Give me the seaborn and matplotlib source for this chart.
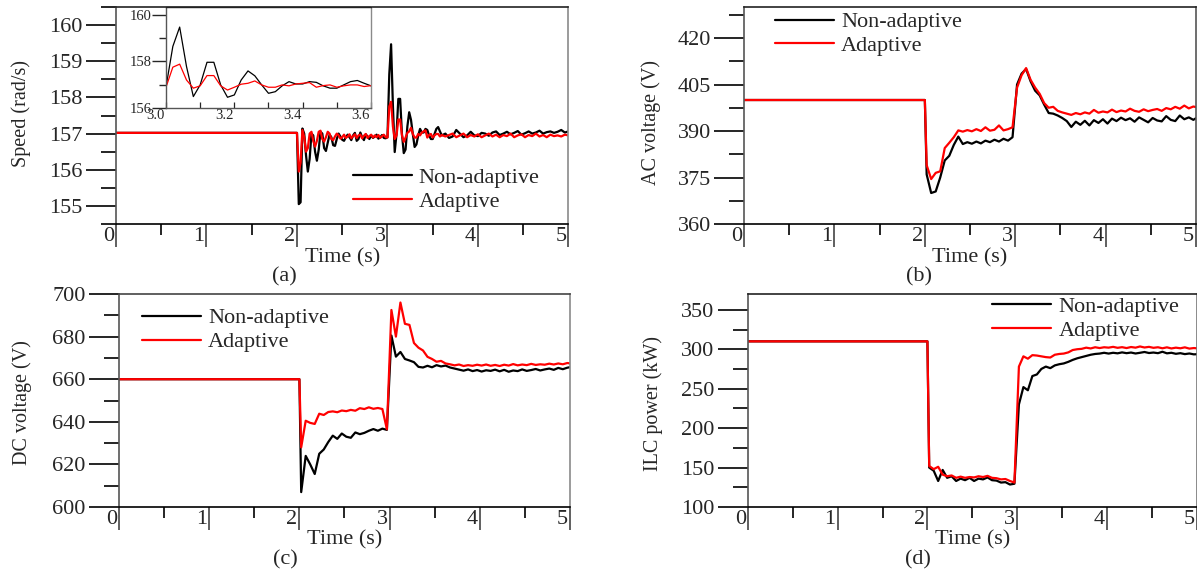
import numpy as np
import pandas as pd
import matplotlib
matplotlib.use('Agg')
import matplotlib.pyplot as plt
import matplotlib.transforms as mtransforms
from matplotlib.ticker import MultipleLocator
import seaborn as sns

# ---------------- data ----------------
labels = ['Non-adaptive', 'Adaptive']
panel_tags = ['(a)', '(b)', '(c)', '(d)']
y_titles = ['Speed (rad/s)', 'AC voltage (V)', 'DC voltage (V)', 'ILC power (kW)']

# speed: t = 0, 2.00..3.60 step 0.02, 3.64..5.00 step 0.04
speed_t = np.r_[0.0, np.round(2.00 + 0.02 * np.arange(81), 2), np.round(3.64 + 0.04 * np.arange(35), 2)]
speed_non = [157.02,
             157.02, 155.05, 155.1, 157.14, 157.0, 156.4, 155.95, 156.3, 157.0, 156.95,
             156.5, 156.25, 156.55, 157.05, 157.0, 156.6, 156.52, 156.75, 156.97, 156.9,
             156.68, 156.66, 156.85, 157.0, 156.92, 156.83, 156.8, 156.9, 156.97, 156.9,
             156.82, 156.95, 157.02, 156.8, 156.85, 157.03, 156.9, 156.82, 156.98, 156.92,
             156.85, 156.95, 156.88, 156.92, 156.97, 156.86, 156.9, 156.96, 156.88, 156.87,
             156.9,
             158.64, 159.47, 157.78, 156.49, 156.99, 157.96, 157.96, 156.99, 156.46, 156.56,
             157.2, 157.59, 157.38, 156.99, 156.63, 156.7, 156.95, 157.13, 157.03, 157.03,
             157.13, 157.1, 156.95, 156.85, 156.85, 156.99, 157.13, 157.18, 157.06, 156.95,
             157.0, 156.88, 156.92, 157.1, 157.0, 156.9, 156.95, 157.05, 156.95, 156.93,
             157.02, 157.0, 156.94, 157.03, 157.06, 156.96, 157.0, 157.05, 156.98, 157.02,
             157.07, 156.97, 157.01, 157.06, 157.0, 157.03, 157.08, 157.0, 157.04, 157.06,
             157.02, 157.05, 157.1, 157.03, 157.06]
speed_ada = [157.02,
             157.02, 155.95, 156.2, 157.1, 156.9, 156.5, 156.6, 157.0, 157.05, 156.8,
             156.64, 156.8, 157.05, 157.08, 156.85, 156.78, 156.9, 157.05, 157.0, 156.85,
             156.82, 156.92, 157.0, 156.95, 156.86, 156.9, 156.97, 156.88, 156.92, 156.98,
             156.87, 156.93, 156.98, 156.88, 156.95, 156.97, 156.87, 156.94, 156.99, 156.88,
             156.93, 156.97, 156.89, 156.95, 156.9, 156.96, 156.88, 156.93, 156.97, 156.9,
             156.89,
             157.75, 157.88, 157.2, 156.85, 156.95, 157.39, 157.39, 156.95, 156.77, 156.89,
             157.02, 157.06, 157.16, 156.99, 156.89, 156.89, 156.99, 156.95, 157.03, 157.06,
             157.09, 156.89, 156.96, 156.99, 156.89, 156.95, 156.99, 156.99, 156.92, 156.96,
             156.92, 156.96, 157.0, 156.9, 156.95, 157.0, 156.9, 156.96, 156.92, 156.98,
             156.9, 156.95, 157.0, 156.92, 156.97, 156.9, 156.96, 156.93, 157.0, 156.9,
             156.95, 156.98, 156.9, 156.96, 156.93, 157.0, 156.92, 156.96, 156.9, 156.97,
             156.93, 156.95, 156.92, 156.97, 156.95]

# AC, DC, ILC: t = 0, 2.0, 2.02..5.02 step 0.05
grid_t = np.r_[0.0, 2.0, np.round(2.02 + 0.05 * np.arange(61), 2)]
ac_non = [400, 400,
          376, 370, 370.5, 375, 380.5, 382, 385.5, 388.2, 385.8, 386.4,
          385.9, 386.6, 386.0, 386.9, 386.4, 387.2, 386.6, 387.5, 386.9, 388.0,
          405, 408.5, 410, 406, 403, 401.5, 398.5, 395.8, 395.6, 395.0,
          394.2, 393.2, 391.3, 393.0, 392.0, 393.3, 391.8, 393.5, 392.6, 393.8,
          392.4, 394.0, 393.2, 394.3, 393.5, 394.1, 393.0, 394.4, 393.6, 392.8,
          394.2, 393.4, 393.1, 394.8, 393.6, 393.2, 395.0, 393.8, 394.4, 393.6,
          394.5]
ac_ada = [400, 400,
          379, 374.5, 376.5, 377, 384.5, 386.2, 388, 390.2, 389.8, 390.3,
          389.9, 390.6, 390.0, 391.2, 390.1, 390.4, 391.8, 390.2, 390.6, 391.2,
          404, 408, 410.3, 406.5, 404, 402, 399, 397.5, 397.8, 396.5,
          396.0, 395.6, 395.2, 395.8, 395.4, 396.0, 395.6, 396.8, 395.9, 396.3,
          396.0, 396.9, 396.1, 396.6, 396.3, 397.2, 396.5, 396.2, 397.0, 396.4,
          396.8, 397.1, 396.5, 397.4, 397.0, 397.8, 397.2, 398.2, 397.3, 397.9,
          397.6]
dc_non = [660, 660,
          607, 624, 620, 615.5, 625, 627, 630.5, 633.5, 632, 634.5,
          633, 632.5, 635, 634.2, 634.8, 635.8, 636.6, 635.8, 636.8, 636.2,
          680.5, 670.6, 672.8, 669.5, 668.8, 668.0, 665.8, 665.5, 666.3, 665.6,
          666.6, 666.0, 666.4, 665.5, 665.0, 664.5, 664.0, 664.6, 663.8, 664.3,
          663.6, 664.2, 663.9, 664.5, 663.7, 664.4, 663.5, 664.1, 663.8, 664.6,
          663.9, 664.3, 664.8, 664.1, 664.6, 665.0, 664.4, 665.3, 664.7, 665.4,
          665.8]
dc_ada = [660, 660,
          628, 640.5, 639.5, 639.0, 643.8, 643.2, 644.6, 644.9, 644.5, 645.3,
          645.0, 645.6, 645.2, 646.4, 646.0, 646.8, 646.1, 646.5, 646.0, 636.5,
          692.5, 680, 696, 686, 685.5, 677, 674.8, 673.5, 670.5, 669.5,
          668.2, 668.6, 667.4, 667.0, 666.5, 666.9, 666.2, 666.6, 666.3, 666.8,
          666.4, 666.9, 666.3, 666.7, 666.2, 666.8, 666.4, 667.1, 666.5, 666.9,
          666.6, 667.2, 666.7, 667.0, 666.8, 667.3, 666.9, 667.4, 667.0, 667.6,
          667.3]
ilc_non = [310, 310,
           150, 146, 133, 147, 137, 139, 133, 136, 134, 137,
           133, 136, 135, 137.5, 134, 133.5, 131, 131.5, 128.5, 129.5,
           230, 252, 248, 266, 268, 275, 278, 276, 279.5, 281,
           282, 284, 286.5, 288.5, 290, 291.5, 293, 294, 294.5, 295.5,
           294.5, 295.5, 294.8, 296, 295, 295.8, 294.6, 295.5, 296.5, 295.2,
           295.8, 295, 296.8, 294.8, 295.5, 294.2, 295, 293.8, 294.6, 293.5,
           293.8]
ilc_ada = [310, 310,
           152, 148, 151, 141, 139, 140, 137, 138.5, 137, 138,
           137.5, 139, 138, 139.5, 137, 136.5, 135, 135.5, 133, 131,
           278, 291, 288, 292.5, 292, 291, 290, 289.5, 293, 294,
           294.5, 296, 299, 300, 300.5, 302, 301, 302.5, 301.5, 302.5,
           302, 303, 301.8, 302.6, 301.5, 302.8, 302, 303.5, 302.2, 303,
           301.8, 302.5, 301.2, 302.4, 301, 302, 301.2, 302.4, 300.8, 301.5,
           301]

# ---------------- style ----------------
sns.set_style('ticks')
plt.rcParams['font.family'] = ['Liberation Serif', 'DejaVu Serif']
plt.rcParams['axes.linewidth'] = 1.2

fig = plt.figure(figsize=(11.97, 5.70), dpi=100)

FS = 16
BLACK = '#000000'
RED = '#ff0000'

def make_df(t, a, b):
    return pd.DataFrame({'t': np.r_[t, t],
                         'v': np.r_[a, b],
                         'series': [labels[0]] * len(t) + [labels[1]] * len(t)})

def style(ax, ylim, ymaj, ymin, left_c, top_c, right_c, ylab, ylab_xy, tag, tag_xy, xlab_y, leg_xy):
    ax.set_xlim(0, 5)
    ax.set_ylim(*ylim)
    ax.xaxis.set_major_locator(MultipleLocator(1))
    ax.xaxis.set_minor_locator(MultipleLocator(0.5))
    ax.yaxis.set_major_locator(MultipleLocator(ymaj))
    ax.yaxis.set_minor_locator(MultipleLocator(ymin))
    ax.tick_params(axis='y', which='major', direction='out', length=21.5, width=1.2,
                   pad=2.5, labelsize=FS, color='black')
    ax.tick_params(axis='y', which='minor', direction='out', length=10.5, width=1.2, color='black')
    ax.tick_params(axis='x', which='major', direction='out', length=16.5, width=1.2,
                   pad=-14.5, labelsize=FS, color='#444444')
    ax.tick_params(axis='x', which='minor', direction='out', length=8, width=1.2, color='black')
    off = mtransforms.ScaledTranslation(-2 / 100, 0, fig.dpi_scale_trans)
    for lab in ax.get_xticklabels():
        lab.set_horizontalalignment('right')
        lab.set_transform(lab.get_transform() + off)
    ax.spines['left'].set_color(left_c)
    ax.spines['bottom'].set_color('black')
    ax.spines['top'].set_color(top_c)
    ax.spines['right'].set_color(right_c)
    ax.set_xlabel('Time (s)', fontsize=FS)
    ax.xaxis.set_label_coords(0.5, xlab_y)
    ax.xaxis.label.set_va('center')
    ax.set_ylabel(ylab, fontsize=14.5)
    ax.yaxis.set_label_coords(*ylab_xy)
    ax.yaxis.label.set_va('center')
    ax.text(tag_xy[0], tag_xy[1], tag, transform=ax.transAxes, fontsize=FS,
            ha='center', va='center')
    ax.legend(loc='upper left', bbox_to_anchor=leg_xy, frameon=False, fontsize=FS,
              handlelength=2.65, handletextpad=0.33, labelspacing=0.15,
              borderpad=0, borderaxespad=0)
    ax.set_facecolor('white')

def draw(ax, t, a, b, lw=1.6, legend=True):
    df = make_df(t, a, b)
    sns.lineplot(data=df, x='t', y='v', hue='series', palette=[BLACK, RED],
                 estimator=None, sort=False, lw=lw, ax=ax, legend=legend)

# (a)
ax_a = fig.add_axes([0.0969, 0.607, 0.3780, 0.3807])
draw(ax_a, speed_t, speed_non, speed_ada)
style(ax_a, (154.5, 160.5), 1, 0.5, '#555555', '#222222', '#8a8a8a', y_titles[0], (-0.209, 0.51),
      panel_tags[0], (0.373, -0.244), -0.157, (0.523, 0.26))

# (b)
ax_b = fig.add_axes([0.6216, 0.607, 0.3776, 0.3807])
draw(ax_b, grid_t, ac_non, ac_ada)
style(ax_b, (360, 430), 15, 7.5, '#555555', '#222222', '#555555', y_titles[1], (-0.205, 0.468),
      panel_tags[1], (0.386, -0.244), -0.157, (0.068, 0.978))

# (c)
ax_c = fig.add_axes([0.0994, 0.1105, 0.3768, 0.3737])
draw(ax_c, grid_t, dc_non, dc_ada)
style(ax_c, (600, 700), 20, 10, '#555555', '#444444', '#8a8a8a', y_titles[2], (-0.215, 0.49),
      panel_tags[2], (0.369, -0.249), -0.155, (0.051, 0.935))

# (d)
ax_d = fig.add_axes([0.6249, 0.1105, 0.3747, 0.3737])
draw(ax_d, grid_t, ilc_non, ilc_ada)
style(ax_d, (100, 370), 50, 25, '#555555', '#222222', '#777777', y_titles[3], (-0.212, 0.488),
      panel_tags[3], (0.379, -0.249), -0.155, (0.545, 0.99))

# inset in (a)
ax_i = fig.add_axes([166 / 1197, (570 - 108) / 570, (371 - 166) / 1197, (108 - 7) / 570])
draw(ax_i, speed_t, speed_non, speed_ada, lw=0.9, legend=False)
ax_i.set_xlim(3.0, 3.6)
ax_i.set_ylim(156, 160.33)
ax_i.set_xticks([3.0, 3.2, 3.4, 3.6])
ax_i.set_xticklabels(['3.0', '3.2', '3.4', '3.6'])
ax_i.xaxis.set_minor_locator(MultipleLocator(0.1))
ax_i.set_yticks([156, 158, 160])
ax_i.set_yticklabels(['156', '158', '160'])
ax_i.yaxis.set_minor_locator(MultipleLocator(1))
ax_i.tick_params(axis='x', which='both', direction='in', length=4, width=0.9, pad=1, labelsize=10.5)
ax_i.tick_params(axis='y', which='major', direction='out', length=10, width=1.0, pad=0.5, labelsize=10.5)
ax_i.tick_params(axis='y', which='minor', direction='out', length=5, width=1.0)
off_i = mtransforms.ScaledTranslation(-1 / 100, 0, fig.dpi_scale_trans)
for lab in ax_i.get_xticklabels():
    lab.set_horizontalalignment('right')
    lab.set_transform(lab.get_transform() + off_i)
ax_i.set_xlabel('')
ax_i.set_ylabel('')
ax_i.spines['left'].set_color('#555555')
ax_i.spines['bottom'].set_color('#555555')
ax_i.spines['top'].set_color('#222222')
ax_i.spines['right'].set_color('#8a8a8a')
for s in ax_i.spines.values():
    s.set_linewidth(1.0)
ax_i.set_facecolor('white')

fig.savefig('out.png', dpi=100)
